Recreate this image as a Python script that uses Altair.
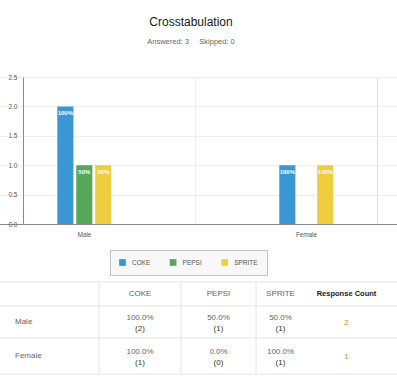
import altair as alt
import pandas as pd

# ---------------- data ----------------
drinks = ["COKE", "PEPSI", "SPRITE"]
genders = ["Male", "Female"]
male_counts = [2, 1, 1]
female_counts = [1, 0, 1]
male_bar_labels = ["100%", "50%", "50%"]
female_bar_labels = ["100%", "", "100%"]
male_pct = ["100.0%", "50.0%", "50.0%"]
female_pct = ["100.0%", "0.0%", "100.0%"]
response_counts = [2, 1]
y_ticks = [0, 0.5, 1.0, 1.5, 2.0, 2.5]
answered = 3
skipped = 0
drink_colors = ["#3a97d4", "#58a65a", "#efcd41"]

# ---------------- tables built from the lists ----------------
bar_rows = []
for g, counts, labels in zip(genders, [male_counts, female_counts], [male_bar_labels, female_bar_labels]):
    for d, c, lab in zip(drinks, counts, labels):
        bar_rows.append({"gender": g, "drink": d, "count": c, "label": lab})
bar_df = pd.DataFrame(bar_rows)

header_cols = drinks + ["Response Count"]
n_cols = len(header_cols)
header_df = pd.DataFrame([{"xu": i + 1.5, "yu": 0.5, "text": h, "bold": h == "Response Count"}
                          for i, h in enumerate(header_cols)])

row_label_rows, cell_rows, rc_rows = [], [], []
for r, (g, counts, pcts, rc) in enumerate(zip(genders, [male_counts, female_counts],
                                               [male_pct, female_pct], response_counts)):
    row_label_rows.append({"xu": 0, "yu": r + 1.5, "text": g})
    for c, (cnt, p) in enumerate(zip(counts, pcts)):
        cell_rows.append({"xu": c + 1.5, "yu": r + 1.5, "pct": p, "cnt": f"({cnt})"})
    rc_rows.append({"xu": len(drinks) + 1.5, "yu": r + 1.5, "text": str(rc)})
row_label_df = pd.DataFrame(row_label_rows)
cell_df = pd.DataFrame(cell_rows)
rc_df = pd.DataFrame(rc_rows)

n_rows = len(genders) + 1
hline_df = pd.DataFrame([{"yu": e, "xu": 0, "xu2": n_cols + 2} for e in range(n_rows + 1)])
vline_df = pd.DataFrame([{"xu": e, "yu": 0, "yu2": n_rows} for e in range(1, n_cols)])

FONT = "Liberation Sans"

# ---------------- bar chart ----------------
X = alt.X("gender:N", sort=genders, title=None,
          scale=alt.Scale(domain=genders, range=[-50, 394], paddingInner=0, paddingOuter=0),
          axis=alt.Axis(ticks=False, grid=True, tickBand="extent", gridColor="#eeeeee",
                        domainColor="#8a8a8a", labelFontSize=6.3, labelColor="#555555",
                        labelPadding=7, labelAngle=0))
XO = alt.XOffset("drink:N", sort=drinks,
                 scale=alt.Scale(domain=drinks, range=[84.3, 138.3], paddingInner=0.15, paddingOuter=0))
Y = alt.Y("count:Q", title=None,
          scale=alt.Scale(domain=[0, 2.5], nice=False),
          axis=alt.Axis(values=y_ticks, format=".1f", ticks=False, gridColor="#efefef",
                        domainColor="#8a8a8a", labelFontSize=6.5, labelColor="#555555",
                        labelPadding=6))

sprite_pad = "SPRITE" + "\u00a0" * 9
C = alt.Color("drink:N", sort=drinks, title=None,
              scale=alt.Scale(domain=drinks, range=drink_colors),
              legend=alt.Legend(orient="none", legendX=87, legendY=173, direction="horizontal",
                                symbolType="square", symbolSize=45, symbolStrokeWidth=0,
                                labelFontSize=6.5, labelColor="#555555", labelOffset=6,
                                columnPadding=18.6, gridAlign="each", padding=9,
                                fillColor="#f8f8f8", strokeColor="#c4c4c4",
                                labelExpr=f"datum.label == 'SPRITE' ? '{sprite_pad}' : datum.label"))

bars = alt.Chart(bar_df).mark_bar().encode(x=X, xOffset=XO, y=Y, color=C)
bar_text = alt.Chart(bar_df).mark_text(baseline="top", dy=4, fontSize=6, fontWeight="bold",
                                       color="white").encode(x=X, xOffset=XO, y=Y, text="label:N")
bar_chart = alt.layer(bars, bar_text)

# ---------------- table ----------------
XT = alt.X("xu:Q", axis=None,
           scale=alt.Scale(domain=[0, 1, 2, 3, 4, 5], range=[-23, 76, 158, 233, 282, 365],
                           nice=False, zero=False))
YT = alt.Y("yu:Q", axis=None,
           scale=alt.Scale(domain=[0, 1, 2, 3], range=[205, 229, 261, 297], nice=False, zero=False))

hlines = alt.Chart(hline_df).mark_rule(color="#e4e4e4", strokeWidth=1).encode(
    x=XT, x2="xu2:Q", y=YT)
vlines = alt.Chart(vline_df).mark_rule(color="#e4e4e4", strokeWidth=1).encode(
    x=XT, y=YT, y2="yu2:Q")
header_text = alt.Chart(header_df).transform_filter("!datum.bold").mark_text(
    fontSize=8, color="#666666", baseline="middle").encode(x=XT, y=YT, text="text:N")
header_bold = alt.Chart(header_df).transform_filter("datum.bold").mark_text(
    fontSize=7.5, fontWeight="bold", color="#1a1a1a", baseline="middle").encode(x=XT, y=YT, text="text:N")
row_labels = alt.Chart(row_label_df).mark_text(
    fontSize=8, color="#666666", align="left", dx=15, baseline="middle").encode(x=XT, y=YT, text="text:N")
pct_text = alt.Chart(cell_df).mark_text(
    fontSize=8, color="#666666", baseline="middle", dy=-4).encode(x=XT, y=YT, text="pct:N")
cnt_text = alt.Chart(cell_df).mark_text(
    fontSize=8, color="#333333", baseline="middle", dy=7).encode(x=XT, y=YT, text="cnt:N")
rc_text = alt.Chart(rc_df).mark_text(
    fontSize=8, color="#d28a1e", baseline="middle", dy=1).encode(x=XT, y=YT, text="text:N")

table = alt.layer(hlines, vlines, header_text, header_bold, row_labels, pct_text, cnt_text, rc_text)

chart = alt.layer(bar_chart, table).resolve_scale(
    x="independent", y="independent"
).properties(
    width=354, height=147,
    padding={"left": 23, "top": 77, "right": 20, "bottom": 152},
    autosize="none",
    title=alt.TitleParams(
        text="Crosstabulation",
        subtitle=f"Answered: {answered}\u00a0\u00a0\u00a0\u00a0\u00a0Skipped: {skipped}",
        anchor="middle", frame="group", dx=-9, offset=28,
        fontSize=12, fontWeight="normal", color="#1a1a1a",
        subtitleFontSize=7.5, subtitleColor="#666666", subtitlePadding=8.5,
    ),
).configure_view(stroke="#ececec").configure_legend(
    strokeColor="#c4c4c4", strokeDash=[2, 2]
).configure(font=FONT, background="white")

chart.save("out.html", embed_options={"renderer": "svg", "actions": False})
